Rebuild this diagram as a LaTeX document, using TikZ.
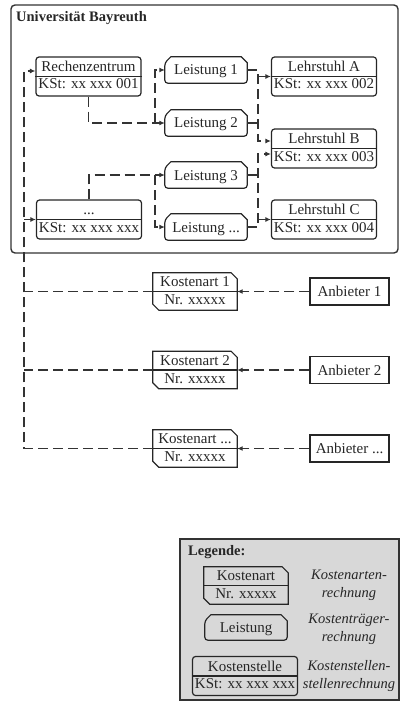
\documentclass[tikz,border=0pt]{standalone}
\usepackage{fontspec}
\setmainfont{Liberation Serif}
\usetikzlibrary{arrows.meta,calc}

\definecolor{ink}{HTML}{262626}
\definecolor{wire}{HTML}{333333}
\definecolor{legendfill}{HTML}{D8D8D8}

\tikzset{
  every node/.style={font=\fontsize{15}{17}\selectfont, text=ink},
  frame/.style={draw=wire, line width=1.4pt, rounded corners=4pt},
  legendbox/.style={draw=wire, line width=1.4pt, fill=legendfill},
  kst/.style={draw=ink, line width=1.2pt, rounded corners=3pt,
    minimum width=105pt, minimum height=39pt, inner sep=0pt},
  shapebox/.style={minimum width=82pt, minimum height=26pt, inner sep=0pt},
  outline/.style={draw=ink, line width=1.2pt},
  anb/.style={draw=ink, line width=1.2pt, minimum width=79pt,
    minimum height=27pt, inner sep=0pt},
  txt/.style={anchor=base, inner sep=0pt},
  heading/.style={anchor=base west, inner sep=0pt,
    font=\fontsize{14.5}{17}\selectfont\bfseries},
  note/.style={anchor=base, inner sep=0pt,
    font=\fontsize{14.5}{17}\selectfont\itshape},
  conn/.style={draw=wire, line width=1.35pt, dash pattern=on 10pt off 5pt},
  arr/.style={conn, -{Latex[length=5.5pt,width=5pt]}},
}

% cost centre: rounded box split in two rows
\newcommand\kstbox[4]{%
  \node[kst] (#1) at (#2) {};
  \draw[outline] (#1.west) -- (#1.east);
  \node[txt] (#1-t) at ($(#1.center)+(0,-5)$) {#3};
  \node[txt] (#1-b) at ($(#1.center)+(0,12.5)$) {#4};
}
% cost unit: chamfered top corners, rounded bottom corners
\newcommand\leistbox[4][26pt]{%
  \node[shapebox, minimum height=#1] (#2) at (#3) {};
  \draw[outline] ($(#2.north west)+(6,0)$) -- ($(#2.north east)+(-6,0)$)
    -- ($(#2.north east)+(0,6)$) [rounded corners=3pt] -- (#2.south east)
    -- (#2.south west) -- ($(#2.north west)+(0,6)$) [sharp corners] -- cycle;
  \node[txt] (#2-t) at ($(#2.center)+(0,5)$) {#4};
}
% cost type: chamfered top right and bottom left corners, two rows
\newcommand\kartbox[4]{%
  \node[shapebox, minimum width=84pt, minimum height=37pt] (#1) at (#2) {};
  \draw[outline] (#1.north west) -- ($(#1.north east)+(-6,0)$)
    -- ($(#1.north east)+(0,6)$) -- (#1.south east)
    -- ($(#1.south west)+(6,0)$) -- ($(#1.south west)+(0,-6)$) -- cycle;
  \draw[outline] (#1.west) -- (#1.east);
  \node[txt] (#1-t) at ($(#1.center)+(0,-5)$) {#3};
  \node[txt] (#1-b) at ($(#1.center)+(0,13)$) {#4};
}

\begin{document}
\begin{tikzpicture}[x=1pt,y=-1pt]
\useasboundingbox (0,0) rectangle (400,706);

% university frame
\draw[frame] (11,5) rectangle (398,253);
\node[heading] (uni) at (16,22) {Universität Bayreuth};

% cost centres
\kstbox{rz}{88.5,76.5}{Rechenzentrum}{KSt: xx xxx 001}
\kstbox{dk}{89,219.5}{...}{KSt: xx xxx xxx}
\kstbox{la}{324,76.5}{Lehrstuhl A}{KSt: xx xxx 002}
\kstbox{lb}{324,148.5}{Lehrstuhl B}{KSt: xx xxx 003}
\kstbox{lc}{324,219.5}{Lehrstuhl C}{KSt: xx xxx 004}

% cost units
\leistbox{l1}{206,70}{Leistung 1}
\leistbox{l2}{206,123}{Leistung 2}
\leistbox{l3}{206,175}{Leistung 3}
\leistbox{l4}{206,227}{Leistung ...}

% cost types and suppliers
\kartbox{k1}{195,291.5}{Kostenart 1}{Nr. xxxxx}
\kartbox{k2}{195,370}{Kostenart 2}{Nr. xxxxx}
\kartbox{k3}{195,448.5}{Kostenart ...}{Nr. xxxxx}

\node[anb] (a1) at (349.5,291.5) {};
\node[txt] (a1-t) at ($(a1.center)+(0,5)$) {Anbieter 1};
\node[anb] (a2) at (349.5,370) {};
\node[txt] (a2-t) at ($(a2.center)+(0,5)$) {Anbieter 2};
\node[anb] (a3) at (349.5,448.5) {};
\node[txt] (a3-t) at ($(a3.center)+(0,5)$) {Anbieter ...};

% suppliers to cost types
\draw[arr] (a1.west) -- (k1.east);
\draw[arr] (a2.west) -- (k2.east);
\draw[arr] (a3.west) -- (k3.east);

% cost types to cost centres
\coordinate (busTop) at (24,71);
\coordinate (busDk) at (24,219.5);
\coordinate (busBot) at (24,448.5);
\draw[arr] (k3.west) -- (busBot) -- (busTop) -- (busTop -| rz.west);
\draw[conn] (k1.west) -- (k1.west -| busBot);
\draw[conn] (k2.west) -- (k2.west -| busBot);
\draw[arr] (busDk) -- (dk.west);

% cost centres to cost units
\coordinate (j1) at (155,123);
\draw[arr] (rz.south) |- (l2.west);
\draw[arr] (j1) |- (l1.west);
\coordinate (j2) at (155,175);
\draw[arr] (dk.north) |- (l3.west);
\draw[arr] (j2) |- (l4.west);

% cost units to chairs
\coordinate (r1) at (258,70);
\coordinate (rA) at (258,76.5);
\coordinate (rB1) at (258,141);
\draw[arr] (l1.east) -- (r1) -- (rB1) -- (rB1 -| lb.west);
\draw[conn] (l2.east) -- (l2.east -| r1);
\draw[arr] (rA) -- (la.west);
\coordinate (rB2) at (258,154);
\coordinate (r4) at (258,227);
\coordinate (rC) at (258,219.5);
\draw[arr] (l4.east) -- (r4) -- (rB2) -- (rB2 -| lb.west);
\draw[conn] (l3.east) -- (l3.east -| r4);
\draw[arr] (rC) -- (lc.west);

% legend
\draw[legendbox] (180,539) rectangle (399,700);
\node[heading] (leg) at (188,555) {Legende:};
\kartbox{lk}{246,585.5}{Kostenart}{Nr. xxxxx}
\leistbox[25pt]{ll}{246,627.5}{Leistung}
\kstbox{ls}{245,676}{Kostenstelle}{KSt: xx xxx xxx}
\node[note] (n1a) at (349,579) {Kostenarten-};
\node[note] (n1b) at (349,597) {rechnung};
\node[note] (n2a) at (349,623) {Kostenträger-};
\node[note] (n2b) at (349,641.5) {rechnung};
\node[note] (n3a) at (349,670) {Kostenstellen-};
\node[note] (n3b) at (349,688) {stellenrechnung};
\end{tikzpicture}
\end{document}
